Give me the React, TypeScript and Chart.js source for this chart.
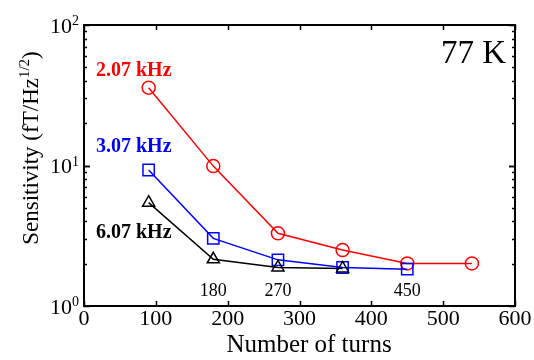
import React, { useEffect, useRef } from "react";
import { Chart, registerables } from "chart.js";

Chart.register(...registerables);

const turnsRed = [90, 180, 270, 360, 450, 540];
const sens207 = [35.8, 9.9, 3.29, 2.5, 2.01, 2.01];
const turnsBlue = [90, 180, 270, 360, 450];
const sens307 = [9.29, 3.03, 2.13, 1.88, 1.83];
const turnsBlack = [90, 180, 270, 360];
const sens607 = [5.44, 2.15, 1.88, 1.85];

const xTicks = [0, 100, 200, 300, 400, 500, 600];
const yDecades = [1, 10, 100];
const yExponents = ["0", "1", "2"];
const turnLabels = [180, 270, 450];

const seriesLabels = ["2.07 kHz", "3.07 kHz", "6.07 kHz"];
const tempLabel = "77 K";
const xTitle = "Number of turns";
const yTitleMain = "Sensitivity (fT/Hz";
const yTitleSup = "1/2";
const yTitleEnd = ")";

const SERIF = "'Liberation Serif', 'Times New Roman', serif";

const overlay = {
  id: "overlay",
  afterDatasetsDraw(chart: any) {
    const ctx = chart.ctx;
    const xs = chart.scales.x;
    const ys = chart.scales.y;
    const a = chart.chartArea;
    ctx.save();
    // series labels
    ctx.font = `bold 20px ${SERIF}`;
    ctx.textAlign = "left";
    ctx.textBaseline = "middle";
    const labelColors = ["#ff0000", "#0000ff", "#000000"];
    const labelY = [71, 147, 233];
    seriesLabels.forEach((t, i) => {
      ctx.fillStyle = labelColors[i];
      ctx.fillText(t, 96, labelY[i]);
    });
    // 77 K
    ctx.fillStyle = "#000";
    ctx.font = `33px ${SERIF}`;
    ctx.textAlign = "right";
    ctx.fillText(tempLabel, 506, 54);
    // turn annotations
    ctx.font = `18px ${SERIF}`;
    ctx.textAlign = "center";
    turnLabels.forEach((v) => {
      ctx.fillText(String(v), xs.getPixelForValue(v), 291);
    });
    ctx.restore();
  },
  afterDraw(chart: any) {
    const ctx = chart.ctx;
    const xs = chart.scales.x;
    const ys = chart.scales.y;
    const a = chart.chartArea;
    ctx.save();
    ctx.strokeStyle = "#000";
    ctx.lineWidth = 1.5;
    // x ticks
    xTicks.forEach((v) => {
      const px = Math.round(xs.getPixelForValue(v)) + 0.5;
      ctx.beginPath();
      ctx.moveTo(px, a.bottom);
      ctx.lineTo(px, a.bottom - 5);
      ctx.moveTo(px, a.top);
      ctx.lineTo(px, a.top + 5);
      ctx.stroke();
    });
    // y ticks
    for (let d = 0; d < yDecades.length - 1; d++) {
      for (let m = 1; m <= 10; m++) {
        const v = yDecades[d] * m;
        const py = Math.round(ys.getPixelForValue(v)) + 0.5;
        const len = m === 1 || m === 10 ? 6 : 3;
        ctx.beginPath();
        ctx.moveTo(a.left, py);
        ctx.lineTo(a.left + len, py);
        ctx.moveTo(a.right, py);
        ctx.lineTo(a.right - len, py);
        ctx.stroke();
      }
    }
    // frame
    ctx.lineWidth = 2;
    ctx.strokeRect(a.left, a.top, a.right - a.left, a.bottom - a.top);
    // y tick labels
    ctx.fillStyle = "#000";
    yDecades.forEach((v, i) => {
      const py = ys.getPixelForValue(v);
      ctx.font = `22px ${SERIF}`;
      ctx.textAlign = "right";
      ctx.textBaseline = "middle";
      ctx.fillText("10", 72, py + 2);
      ctx.font = `14px ${SERIF}`;
      ctx.textAlign = "left";
      ctx.textBaseline = "alphabetic";
      ctx.fillText(yExponents[i], 72, py);
    });
    // x title
    ctx.font = `25px ${SERIF}`;
    ctx.textAlign = "center";
    ctx.textBaseline = "alphabetic";
    ctx.fillText(xTitle, 309, 352);
    // y title
    ctx.save();
    ctx.translate(38, 148);
    ctx.rotate(-Math.PI / 2);
    ctx.textAlign = "left";
    ctx.textBaseline = "alphabetic";
    ctx.font = `23px ${SERIF}`;
    const w1 = ctx.measureText(yTitleMain).width;
    const w3 = ctx.measureText(yTitleEnd).width;
    ctx.font = `15px ${SERIF}`;
    const w2 = ctx.measureText(yTitleSup).width;
    const total = w1 + w2 + w3;
    let x0 = -total / 2;
    ctx.font = `23px ${SERIF}`;
    ctx.fillText(yTitleMain, x0, 0);
    ctx.font = `15px ${SERIF}`;
    ctx.fillText(yTitleSup, x0 + w1, -9);
    ctx.font = `23px ${SERIF}`;
    ctx.fillText(yTitleEnd, x0 + w1 + w2, 0);
    ctx.restore();
    ctx.restore();
  },
};

export default function App() {
  const ref = useRef<HTMLCanvasElement | null>(null);
  useEffect(() => {
    if (!ref.current) return;
    const mk = (xsArr: number[], ysArr: number[]) => xsArr.map((x, i) => ({ x, y: ysArr[i] }));
    const chart = new Chart(ref.current, {
      type: "line",
      data: {
        datasets: [
          {
            label: seriesLabels[2],
            data: mk(turnsBlack, sens607),
            borderColor: "#000000",
            backgroundColor: "rgba(0,0,0,0)",
            borderWidth: 1.5,
            pointStyle: "triangle",
            pointRadius: 7,
            pointBorderWidth: 1.5,
          },
          {
            label: seriesLabels[1],
            data: mk(turnsBlue, sens307),
            borderColor: "#0000ff",
            backgroundColor: "rgba(0,0,0,0)",
            borderWidth: 1.5,
            pointStyle: "rect",
            pointRadius: 8,
            pointBorderWidth: 1.5,
          },
          {
            label: seriesLabels[0],
            data: mk(turnsRed, sens207),
            borderColor: "#ff0000",
            backgroundColor: "rgba(0,0,0,0)",
            borderWidth: 1.5,
            pointStyle: "circle",
            pointRadius: 6.5,
            pointBorderWidth: 1.5,
          },
        ],
      },
      options: {
        animation: false,
        responsive: true,
        maintainAspectRatio: false,
        layout: { padding: { top: 25, right: 19, left: 0, bottom: 0 } },
        plugins: {
          legend: { display: false },
          tooltip: { enabled: false },
        },
        scales: {
          x: {
            type: "linear",
            min: 0,
            max: 600,
            afterFit: (s: any) => {
              s.height = 54;
            },
            afterBuildTicks: (s: any) => {
              s.ticks = xTicks.map((v) => ({ value: v }));
            },
            ticks: {
              font: { family: SERIF, size: 22 },
              color: "#000",
              padding: 0,
              maxRotation: 0,
            },
            grid: { display: false, drawTicks: false },
            border: { display: false },
          },
          y: {
            type: "logarithmic",
            min: 1,
            max: 100,
            afterFit: (s: any) => {
              s.width = 84;
            },
            ticks: { display: false },
            grid: { display: false, drawTicks: false },
            border: { display: false },
          },
        },
      },
      plugins: [overlay],
    } as any);
    return () => chart.destroy();
  }, []);
  return (
    <div style={{ position: "fixed", left: 0, top: 0, width: 534, height: 360, background: "#fff" }}>
      <canvas ref={ref} />
    </div>
  );
}
